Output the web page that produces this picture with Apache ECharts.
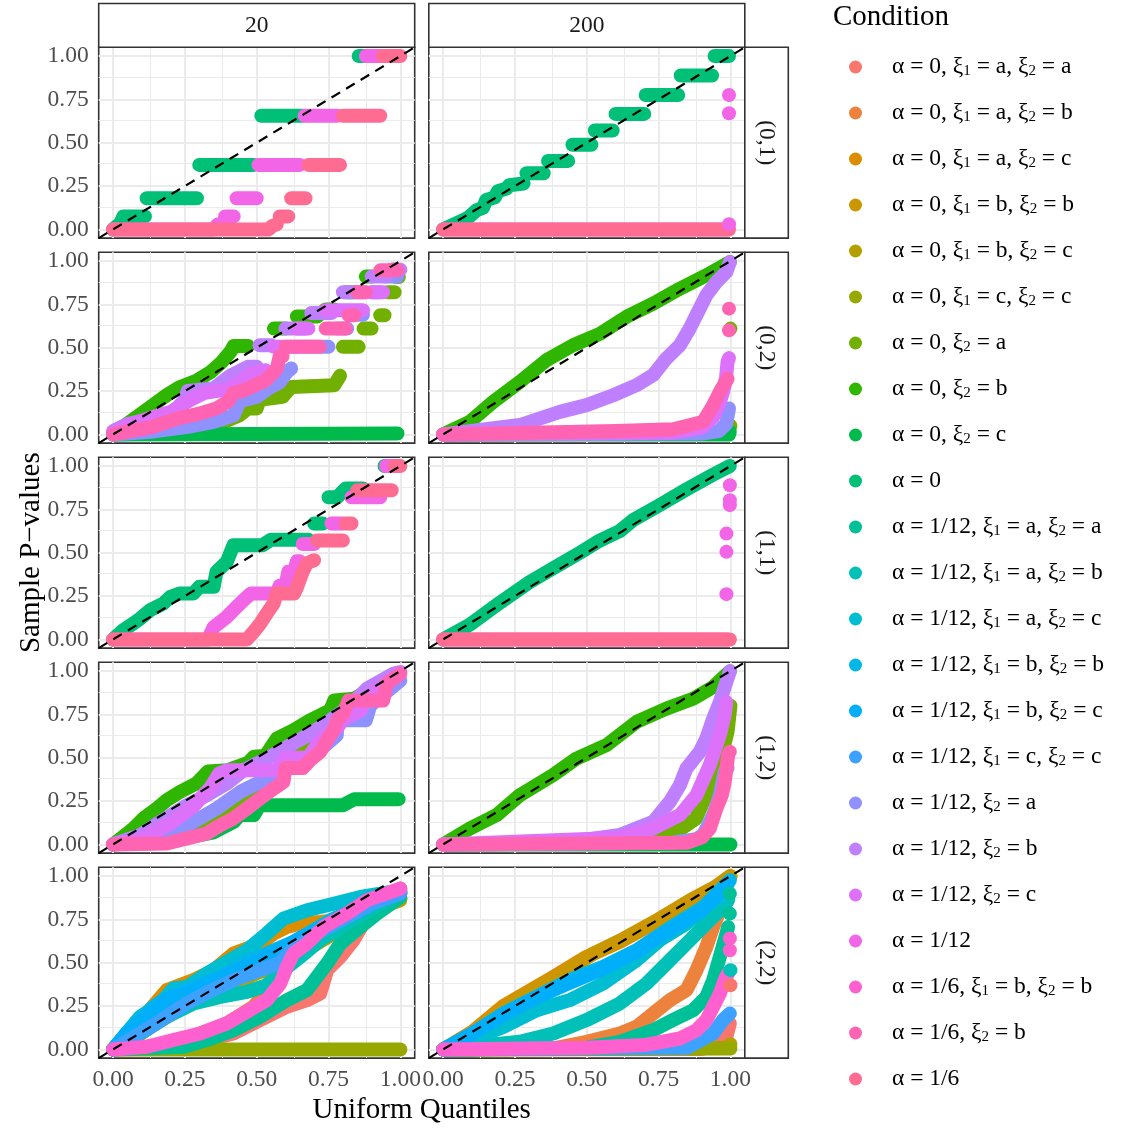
<!DOCTYPE html>
<html><head><meta charset="utf-8">
<script src="https://cdn.jsdelivr.net/npm/echarts@6/dist/echarts.min.js"></script>
<style>html,body{margin:0;padding:0;background:#fff}#chart{width:1123px;height:1128px}</style>
</head><body><div id="chart"></div>
<script>
// ---------------- labels ----------------
const conditions = [
 'α = 0, ξ1 = a, ξ2 = a','α = 0, ξ1 = a, ξ2 = b','α = 0, ξ1 = a, ξ2 = c','α = 0, ξ1 = b, ξ2 = b',
 'α = 0, ξ1 = b, ξ2 = c','α = 0, ξ1 = c, ξ2 = c','α = 0, ξ2 = a','α = 0, ξ2 = b','α = 0, ξ2 = c','α = 0',
 'α = 1/12, ξ1 = a, ξ2 = a','α = 1/12, ξ1 = a, ξ2 = b','α = 1/12, ξ1 = a, ξ2 = c','α = 1/12, ξ1 = b, ξ2 = b',
 'α = 1/12, ξ1 = b, ξ2 = c','α = 1/12, ξ1 = c, ξ2 = c','α = 1/12, ξ2 = a','α = 1/12, ξ2 = b','α = 1/12, ξ2 = c',
 'α = 1/12','α = 1/6, ξ1 = b, ξ2 = b','α = 1/6, ξ2 = b','α = 1/6'];
const colLabels = ['20','200'];
const rowLabels = ['(0,1)','(0,2)','(1,1)','(1,2)','(2,2)'];
const tickValues = [0,0.25,0.5,0.75,1];
const minorValues = [0.125,0.375,0.625,0.875];
const axisLimits = [-0.05,1.05];

// ---------------- data (Uniform quantile, sample p-value) ----------------
// row (0,1), n = 20
const p01_n20_a0 = [[0,0],[0.025,0.035],[0.036,0.075],[0.111,0.075],null,[0.117,0.18],[0.292,0.18],null,[0.30,0.372],[0.49,0.372],null,[0.516,0.655],[0.66,0.655],null,[0.855,1],[0.88,1]];
const p01_n20_a112 = [[0,0],[0.35,0],[0.365,0.03],[0.38,0.03],null,[0.39,0.075],[0.42,0.075],null,[0.43,0.18],[0.5,0.18],null,[0.506,0.372],[0.65,0.372],null,[0.667,0.655],[0.78,0.655],null,[0.88,1],[0.93,1]];
const p01_n20_a16 = [[0,0],[0.54,0],[0.555,0.02],[0.57,0.03],null,[0.58,0.075],[0.61,0.075],null,[0.62,0.18],[0.67,0.18],null,[0.68,0.372],[0.79,0.372],null,[0.8,0.655],[0.93,0.655],null,[0.94,1],[1,1]];
// row (0,1), n = 200
const p01_n200_a0 = [[0,0],[0.04,0.03],[0.085,0.065],[0.116,0.11],[0.139,0.125],[0.15,0.17],[0.18,0.185],[0.19,0.22],[0.22,0.235],[0.23,0.255],[0.28,0.265],null,[0.29,0.324],[0.35,0.324],null,[0.365,0.395],[0.435,0.395],null,[0.45,0.488],[0.516,0.488],null,[0.528,0.57],[0.59,0.57],null,[0.6,0.666],[0.7,0.666],null,[0.705,0.775],[0.818,0.775],null,[0.827,0.887],[0.936,0.887],null,[0.945,1],[0.995,1]];
const p01_n200_a112 = [[0,0],[0.99,0]];
const p01_n200_a112_pts = [[0.995,0.775],[0.995,0.67],[0.995,0.03]];
const p01_n200_a16 = [[0,0],[0.995,0]];
// row (0,2), n = 20
const p02_n20_a0x2a = [[0,0],[0.13,0.006],[0.26,0.025],[0.36,0.054],[0.44,0.11],[0.47,0.15],[0.5,0.15],[0.51,0.2],[0.59,0.217],[0.62,0.274],[0.77,0.284],[0.79,0.338],null,[0.8,0.505],[0.855,0.505],null,[0.872,0.61],[0.9,0.61],null,[0.93,0.687],[0.945,0.687],null,[0.955,0.82],[0.98,0.82],null,[0.985,0.908],[0.995,0.908]];
const p02_n20_a0x2b = [[0,0.01],[0.04,0.05],[0.09,0.11],[0.14,0.17],[0.19,0.23],[0.23,0.27],[0.29,0.31],[0.34,0.36],[0.38,0.42],[0.41,0.48],[0.42,0.51],[0.47,0.51],null,[0.56,0.61],[0.6,0.61],null,[0.64,0.68],[0.71,0.68],[0.74,0.72],[0.77,0.72],null,[0.81,0.82],[0.84,0.82],null,[0.88,0.91],[0.9,0.91],null,[0.97,0.95],[0.99,0.95]];
const p02_n20_a0x2c = [[0,0],[0.99,0.005]];
const p02_n20_a112x2a = [[0,0],[0.13,0.015],[0.26,0.044],[0.35,0.073],[0.42,0.11],[0.44,0.19],[0.5,0.217],[0.54,0.265],[0.58,0.3],[0.605,0.36],[0.62,0.38],null,[0.63,0.505],[0.75,0.505],null,[0.78,0.61],[0.815,0.61],null,[0.84,0.69],[0.87,0.69],null,[0.9,0.82],[0.93,0.82],null,[0.95,0.91],[0.99,0.91]];
const p02_n20_a112x2b = [[0,0.02],[0.05,0.06],[0.13,0.09],[0.21,0.13],[0.25,0.2],[0.26,0.25],[0.35,0.265],[0.41,0.34],[0.47,0.39],[0.5,0.39],null,[0.51,0.514],[0.55,0.514],null,[0.6,0.61],[0.67,0.61],null,[0.69,0.7],[0.76,0.7],null,[0.8,0.82],[0.88,0.82],null,[0.9,0.91],[0.95,0.91],null,[0.97,0.95],[1,0.95]];
const p02_n20_a112x2c = [[0,0.01],[0.05,0.05],[0.12,0.09],[0.2,0.13],[0.27,0.2],[0.32,0.24],[0.4,0.26],[0.44,0.3],[0.48,0.35],[0.53,0.37],null,[0.56,0.505],[0.62,0.505],null,[0.64,0.61],[0.68,0.61],null,[0.74,0.716],[0.87,0.716],null,[0.9,0.82],[0.94,0.82],null,[0.97,0.95],[0.99,0.95]];
const p02_n20_a16x2b = [[0,0],[0.13,0.04],[0.22,0.09],[0.3,0.12],[0.36,0.15],[0.4,0.19],[0.42,0.24],[0.45,0.25],[0.49,0.28],[0.53,0.31],[0.56,0.36],[0.57,0.38],[0.58,0.45],[0.59,0.45],null,[0.6,0.505],[0.72,0.505],null,[0.74,0.61],[0.81,0.61],null,[0.82,0.687],[0.84,0.687],null,[0.85,0.82],[0.88,0.82],null,[0.93,0.946],[0.99,0.946]];
// row (0,2), n = 200
const p02_n200_a0x2a = [[0,0],[0.97,0.005],[0.99,0.03],[1,0.05]];
const p02_n200_a0x2a_pts = [[1,0.61]];
const p02_n200_a0x2b = [[0,0],[0.093,0.073],[0.174,0.188],[0.267,0.303],[0.36,0.428],[0.452,0.514],[0.545,0.58],[0.638,0.678],[0.731,0.754],[0.824,0.84],[0.916,0.917],[0.998,0.994]];
const p02_n200_a0x2c = [[0,0],[0.995,0],[0.998,0.015]];
const p02_n200_a112x2a = [[0,0],[0.9,0.005],[0.96,0.02],[0.985,0.06],[0.995,0.15]];
const p02_n200_a112x2b = [[0,0],[0.267,0.054],[0.406,0.13],[0.499,0.169],[0.592,0.226],[0.673,0.284],[0.731,0.342],[0.777,0.438],[0.824,0.514],[0.858,0.61],[0.893,0.726],[0.916,0.802],[0.951,0.879],[0.986,0.937],[0.998,0.994]];
const p02_n200_a112x2c = [[0,0],[0.8,0.01],[0.9,0.04],[0.94,0.1],[0.96,0.17],[0.975,0.25],[0.985,0.33],[0.99,0.42],[0.995,0.44]];
const p02_n200_a16x2b = [[0,0],[0.3,0.01],[0.6,0.02],[0.8,0.03],[0.85,0.05],[0.905,0.073],[0.94,0.169],[0.963,0.246],[0.98,0.294],[0.99,0.32]];
const p02_n200_a16x2b_pts = [[0.995,0.725],[0.995,0.6]];
// row (1,1), n = 20
const p11_n20_a0 = [[0,0],[0.036,0.054],[0.071,0.092],[0.094,0.12],[0.13,0.17],[0.175,0.207],[0.2,0.246],[0.233,0.265],[0.28,0.265],[0.3,0.303],[0.35,0.303],[0.36,0.39],[0.396,0.447],[0.419,0.543],[0.52,0.543],[0.55,0.575],[0.68,0.575],null,[0.7,0.668],[0.73,0.668],null,[0.75,0.82],[0.78,0.82],[0.81,0.87],[0.87,0.87],null,[0.945,1],[0.99,1]];
const p11_n20_a112 = [[0,0],[0.33,0],[0.35,0.07],[0.396,0.13],[0.419,0.169],[0.454,0.226],[0.48,0.265],[0.57,0.265],[0.58,0.31],[0.6,0.31],[0.61,0.39],[0.63,0.39],[0.64,0.45],[0.65,0.45],null,[0.66,0.55],[0.7,0.55],null,[0.76,0.668],[0.8,0.668],null,[0.83,0.82],[0.93,0.82],null,[0.95,1],[0.99,1]];
const p11_n20_a16 = [[0,0],[0.466,0],[0.489,0.044],[0.512,0.09],[0.535,0.15],[0.559,0.207],[0.57,0.265],[0.63,0.265],[0.64,0.3],[0.66,0.39],[0.675,0.44],[0.7,0.457],null,[0.71,0.57],[0.8,0.57],null,[0.81,0.668],[0.83,0.668],null,[0.85,0.86],[0.97,0.86],null,[0.98,1],[1,1]];
// row (1,1), n = 200
const p11_n200_a0 = [[0,0],[0.093,0.085],[0.2,0.215],[0.3,0.33],[0.383,0.41],[0.476,0.5],[0.545,0.57],[0.615,0.625],[0.661,0.688],[0.754,0.775],[0.847,0.865],[0.94,0.95],[0.998,1]];
const p11_n200_a112 = [[0,0],[0.99,0]];
const p11_n200_a112_pts = [[0.998,0.889],[0.998,0.802],[0.998,0.774],[0.986,0.61],[0.986,0.505],[0.986,0.261]];
const p11_n200_a16 = [[0,0],[0.998,0]];
// row (1,2), n = 20
const p12_n20_a0x2a = [[0,0],[0.2,0.05],[0.3,0.13],[0.4,0.2],[0.5,0.32],[0.6,0.45],[0.7,0.6],[0.8,0.72],[0.9,0.85],[0.99,0.97]];
const p12_n20_a0x2b = [[0,0],[0.024,0.03],[0.071,0.092],[0.106,0.15],[0.152,0.207],[0.187,0.255],[0.233,0.303],[0.29,0.351],[0.33,0.42],[0.4,0.428],[0.47,0.47],[0.49,0.505],[0.53,0.51],[0.57,0.61],[0.628,0.658],[0.686,0.716],[0.756,0.773],[0.77,0.83],[0.84,0.84],[0.9,0.9],[0.99,0.98]];
const p12_n20_a0x2c = [[0,0],[0.2,0.02],[0.35,0.07],[0.42,0.13],[0.44,0.169],[0.49,0.169],[0.51,0.226],[0.8,0.226],[0.84,0.261],[0.994,0.261]];
const p12_n20_a112x2a = [[0,0],[0.187,0.044],[0.28,0.13],[0.361,0.207],[0.443,0.303],[0.512,0.36],[0.57,0.418],[0.686,0.495],[0.779,0.63],[0.78,0.716],[0.88,0.716],[0.895,0.8],[1,0.946]];
const p12_n20_a112x2b = [[0,0],[0.094,0.054],[0.164,0.13],[0.257,0.226],[0.326,0.284],[0.396,0.351],[0.454,0.428],[0.535,0.495],[0.617,0.572],[0.698,0.649],[0.756,0.716],[0.814,0.783],[0.884,0.898],[0.977,0.985],[1,0.994]];
const p12_n20_a112x2c = [[0,0],[0.1,0.03],[0.2,0.12],[0.28,0.22],[0.34,0.33],[0.37,0.41],[0.4,0.428],[0.57,0.428],[0.6,0.5],[0.68,0.5],[0.72,0.6],[0.78,0.67],[0.8,0.72],[0.86,0.77],[0.9,0.87],[0.95,0.93],[0.99,0.97]];
const p12_n20_a16x2b = [[0,0],[0.187,0.006],[0.257,0.035],[0.326,0.063],[0.373,0.111],[0.419,0.15],[0.466,0.207],[0.512,0.265],[0.559,0.322],[0.593,0.36],[0.6,0.44],[0.66,0.44],[0.686,0.486],[0.721,0.534],[0.745,0.6],[0.768,0.658],[0.779,0.716],[0.8,0.75],[0.82,0.83],[0.94,0.83],[0.953,0.927],[1,0.985]];
// row (1,2), n = 200
const p12_n200_a0x2a = [[0,0],[0.5,0.005],[0.68,0.04],[0.82,0.08],[0.88,0.15],[0.92,0.3],[0.955,0.45],[0.975,0.55],[0.99,0.65],[1,0.8]];
const p12_n200_a0x2b = [[0,0],[0.093,0.092],[0.186,0.169],[0.267,0.284],[0.383,0.4],[0.464,0.495],[0.568,0.572],[0.673,0.706],[0.777,0.783],[0.87,0.84],[0.94,0.908],[0.998,0.998]];
const p12_n200_a0x2c = [[0,0],[1,0]];
const p12_n200_a112x2a = [[0,0],[0.8,0.01],[0.88,0.03],[0.905,0.054],[0.94,0.17],[0.963,0.284],[0.98,0.418],[0.99,0.44]];
const p12_n200_a112x2b = [[0,0],[0.441,0.015],[0.615,0.054],[0.731,0.13],[0.789,0.246],[0.824,0.342],[0.847,0.438],[0.893,0.534],[0.916,0.61],[0.94,0.726],[0.963,0.82],[0.986,0.937],[0.998,0.998]];
const p12_n200_a112x2c = [[0,0],[0.615,0.038],[0.731,0.092],[0.824,0.169],[0.882,0.284],[0.928,0.457],[0.963,0.63],[0.98,0.745],[0.986,0.82]];
const p12_n200_a16x2b = [[0,0],[0.85,0.01],[0.9,0.04],[0.928,0.092],[0.951,0.207],[0.97,0.284],[0.98,0.36],[0.992,0.514]];
const p12_n200_a16x2b_pts = [[0.998,0.534]];
// row (2,2), n = 20
const p22_n20_c1 = [[0,0],[0.187,0.006],[0.303,0.044],[0.419,0.092],[0.512,0.169],[0.605,0.246],[0.675,0.284],[0.721,0.322],[0.745,0.457],[0.791,0.534],[0.837,0.63],[0.884,0.764],[0.942,0.82],[1,0.898]];
const p22_n20_c2 = [[0,0],[0.187,0.025],[0.303,0.092],[0.396,0.15],[0.489,0.246],[0.535,0.342],[0.559,0.457],[0.582,0.514],[0.652,0.59],[0.721,0.668],[0.814,0.764],[0.907,0.86],[1,0.927]];
const p22_n20_c3 = [[0,0],[0.048,0.092],[0.117,0.207],[0.187,0.342],[0.28,0.4],[0.35,0.457],[0.419,0.553],[0.512,0.61],[0.559,0.668],[0.605,0.706],[0.652,0.726],[0.721,0.735],[0.826,0.754],[0.919,0.82],[1,0.87]];
const p22_n20_c4 = [[0,0],[0.05,0.06],[0.12,0.16],[0.2,0.26],[0.3,0.36],[0.4,0.43],[0.48,0.48],[0.55,0.52],[0.62,0.58],[0.7,0.66],[0.78,0.73],[0.86,0.79],[0.93,0.84],[1,0.87]];
const p22_n20_c5 = [[0,0],[0.06,0.05],[0.15,0.15],[0.25,0.25],[0.35,0.33],[0.45,0.4],[0.5,0.44],[0.6,0.5],[0.7,0.6],[0.8,0.7],[0.9,0.8],[1,0.86]];
const p22_n20_c6 = [[0,0],[1,0]];
const p22_n20_c11 = [[0,0],[0.245,0.015],[0.326,0.054],[0.419,0.111],[0.512,0.188],[0.605,0.284],[0.675,0.342],[0.745,0.495],[0.791,0.61],[0.861,0.706],[0.919,0.783],[1,0.879]];
const p22_n20_c12 = [[0,0],[0.094,0.092],[0.187,0.188],[0.28,0.265],[0.373,0.303],[0.466,0.332],[0.535,0.37],[0.593,0.457],[0.652,0.534],[0.721,0.63],[0.814,0.726],[0.907,0.82],[1,0.898]];
const p22_n20_c13 = [[0,0],[0.094,0.188],[0.164,0.265],[0.21,0.351],[0.257,0.36],[0.326,0.438],[0.396,0.505],[0.466,0.572],[0.535,0.668],[0.593,0.754],[0.675,0.802],[0.768,0.84],[0.861,0.879],[1,0.917]];
const p22_n20_c14 = [[0,0],[0.071,0.13],[0.14,0.246],[0.21,0.322],[0.303,0.38],[0.396,0.438],[0.443,0.495],[0.535,0.553],[0.628,0.62],[0.698,0.687],[0.756,0.745],[0.837,0.802],[1,0.908]];
const p22_n20_c15 = [[0,0],[0.05,0.1],[0.12,0.2],[0.2,0.3],[0.28,0.34],[0.36,0.4],[0.45,0.47],[0.55,0.55],[0.65,0.64],[0.75,0.72],[0.85,0.81],[0.95,0.88],[1,0.91]];
const p22_n20_c16 = [[0,0],[0.06,0.06],[0.15,0.15],[0.25,0.26],[0.33,0.33],[0.42,0.4],[0.5,0.45],[0.58,0.5],[0.62,0.57],[0.7,0.66],[0.8,0.75],[0.9,0.84],[1,0.9]];
const p22_n20_c21 = [[0,0],[0.117,0.015],[0.21,0.054],[0.303,0.092],[0.396,0.15],[0.466,0.217],[0.535,0.284],[0.582,0.38],[0.605,0.476],[0.628,0.553],[0.675,0.61],[0.733,0.706],[0.814,0.783],[0.884,0.86],[1,0.927]];
// row (2,2), n = 200
const p22_n200_c1 = [[0,0],[0.9,0.003],[0.95,0.02],[0.986,0.073],[0.998,0.15]];
const p22_n200_c1_pts = [[1,0.37]];
const p22_n200_c2 = [[0,0],[0.38,0.005],[0.5,0.044],[0.615,0.092],[0.673,0.13],[0.731,0.207],[0.789,0.284],[0.847,0.342],[0.882,0.457],[0.916,0.591],[0.94,0.706],[0.963,0.802],[0.98,0.879]];
const p22_n200_c3 = [[0,0],[0.1,0.1],[0.209,0.25],[0.383,0.418],[0.499,0.534],[0.615,0.62],[0.731,0.726],[0.847,0.84],[0.94,0.927],[1,0.998]];
const p22_n200_c4 = [[0,0],[0.12,0.11],[0.25,0.28],[0.4,0.42],[0.52,0.55],[0.63,0.64],[0.75,0.75],[0.86,0.86],[0.95,0.94],[1,1]];
const p22_n200_c5 = [[0,0],[0.99,0.01],[1,0.03]];
const p22_n200_c6 = [[0,0],[1,0.005]];
const p22_n200_c11 = [[0,0],[0.5,0.01],[0.615,0.044],[0.731,0.111],[0.8,0.169],[0.87,0.226],[0.916,0.303],[0.94,0.399],[0.963,0.534],[0.986,0.668],[0.992,0.706]];
const p22_n200_c11_pts = [[0.998,0.783],[0.998,0.898]];
const p22_n200_c12 = [[0,0],[0.267,0.044],[0.383,0.092],[0.499,0.169],[0.615,0.265],[0.708,0.38],[0.789,0.514],[0.847,0.61],[0.916,0.726],[0.963,0.802],[0.992,0.86]];
const p22_n200_c12_pts = [[1,0.457]];
const p22_n200_c13 = [[0,0],[0.093,0.054],[0.209,0.13],[0.325,0.226],[0.44,0.284],[0.557,0.38],[0.673,0.514],[0.754,0.63],[0.847,0.726],[0.928,0.84],[0.974,0.879]];
const p22_n200_c14 = [[0,0],[0.093,0.083],[0.209,0.207],[0.325,0.303],[0.44,0.4],[0.557,0.476],[0.673,0.572],[0.789,0.7],[0.905,0.82],[0.998,0.975]];
const p22_n200_c15 = [[0,0],[0.1,0.09],[0.2,0.19],[0.3,0.28],[0.42,0.37],[0.55,0.46],[0.67,0.56],[0.78,0.68],[0.9,0.8],[0.99,0.95]];
const p22_n200_c16 = [[0,0],[0.85,0.01],[0.94,0.092],[0.974,0.169],[0.998,0.207]];
const p22_n200_c21 = [[0,0],[0.5,0.01],[0.7,0.025],[0.824,0.063],[0.882,0.111],[0.916,0.169],[0.94,0.246],[0.963,0.322],[0.98,0.4],[0.992,0.438]];
const p22_n200_c21_pts = [[0.998,0.64],[0.998,0.572]];

// panel -> layers [conditionIndex, lineData, pointData]
const panels = [
 [[9,p01_n20_a0],[19,p01_n20_a112],[22,p01_n20_a16]],
 [[9,p01_n200_a0],[19,p01_n200_a112,p01_n200_a112_pts],[22,p01_n200_a16]],
 [[6,p02_n20_a0x2a],[7,p02_n20_a0x2b],[8,p02_n20_a0x2c],[16,p02_n20_a112x2a],[17,p02_n20_a112x2b],[18,p02_n20_a112x2c],[21,p02_n20_a16x2b]],
 [[6,p02_n200_a0x2a,p02_n200_a0x2a_pts],[7,p02_n200_a0x2b],[8,p02_n200_a0x2c],[16,p02_n200_a112x2a],[17,p02_n200_a112x2b],[18,p02_n200_a112x2c],[21,p02_n200_a16x2b,p02_n200_a16x2b_pts]],
 [[9,p11_n20_a0],[19,p11_n20_a112],[22,p11_n20_a16]],
 [[9,p11_n200_a0],[19,p11_n200_a112,p11_n200_a112_pts],[22,p11_n200_a16]],
 [[6,p12_n20_a0x2a],[7,p12_n20_a0x2b],[8,p12_n20_a0x2c],[16,p12_n20_a112x2a],[17,p12_n20_a112x2b],[18,p12_n20_a112x2c],[21,p12_n20_a16x2b]],
 [[6,p12_n200_a0x2a],[7,p12_n200_a0x2b],[8,p12_n200_a0x2c],[16,p12_n200_a112x2a],[17,p12_n200_a112x2b],[18,p12_n200_a112x2c],[21,p12_n200_a16x2b,p12_n200_a16x2b_pts]],
 [[0,p22_n20_c1],[1,p22_n20_c2],[2,p22_n20_c3],[3,p22_n20_c4],[4,p22_n20_c5],[5,p22_n20_c6],[10,p22_n20_c11],[11,p22_n20_c12],[12,p22_n20_c13],[13,p22_n20_c14],[14,p22_n20_c15],[15,p22_n20_c16],[20,p22_n20_c21]],
 [[0,p22_n200_c1,p22_n200_c1_pts],[1,p22_n200_c2],[2,p22_n200_c3],[3,p22_n200_c4],[4,p22_n200_c5],[5,p22_n200_c6],[10,p22_n200_c11,p22_n200_c11_pts],[11,p22_n200_c12,p22_n200_c12_pts],[12,p22_n200_c13],[13,p22_n200_c14],[14,p22_n200_c15],[15,p22_n200_c16],[20,p22_n200_c21,p22_n200_c21_pts]]
];

// ---------------- styling helpers ----------------
function hcl(h, c, l) {
  const hr = h * Math.PI / 180;
  const U = c * Math.cos(hr), V = c * Math.sin(hr);
  const Y = 100 * Math.pow((l + 16) / 116, 3);
  const un = 0.1978398, vn = 0.4683363;
  const u = U / (13 * l) + un, v = V / (13 * l) + vn;
  const X = 9 * Y * u / (4 * v);
  const Z = -X / 3 - 5 * Y + 3 * Y / v;
  const lin = [(3.240479*X - 1.537150*Y - 0.498535*Z)/100, (-0.969256*X + 1.875992*Y + 0.041556*Z)/100, (0.055648*X - 0.204043*Y + 1.057311*Z)/100];
  const g = t => t > 0.00304 ? 1.055 * Math.pow(t, 1/2.4) - 0.055 : 12.92 * t;
  return '#' + lin.map(t => Math.round(255 * Math.min(1, Math.max(0, g(t)))).toString(16).padStart(2, '0')).join('');
}
const colors = conditions.map((_, i) => hcl(15 + i * 360 / conditions.length, 100, 65));

const FONT = '"Liberation Serif", "Times New Roman", serif';
const GL = [98.7, 428.8], GW = 316, GT0 = 47.3, GSTEP = 205, GH = 190.8;
const PT = 14; // point diameter

const grids = [], xAxes = [], yAxes = [], series = [];
panels.forEach((layers, pi) => {
  const r = Math.floor(pi / 2), c = pi % 2;
  grids.push({left: GL[c], top: GT0 + r * GSTEP, width: GW, height: GH, show: true,
    backgroundColor: '#fff', borderColor: '#333333', borderWidth: 1.6, containLabel: false, outerBoundsMode: 'none'});
  const lab = {fontFamily: FONT, fontSize: 23.5, color: '#4D4D4D', margin: 10, customValues: tickValues, formatter: v => v.toFixed(2)};
  const tk = {length: 7, lineStyle: {color: '#333333', width: 1.5}, customValues: tickValues};
  xAxes.push({gridIndex: pi, type: 'value', min: axisLimits[0], max: axisLimits[1],
    axisLine: {show: false}, splitLine: {show: false},
    axisTick: Object.assign({show: r === 4}, tk), axisLabel: Object.assign({show: r === 4}, lab)});
  yAxes.push({gridIndex: pi, type: 'value', min: axisLimits[0], max: axisLimits[1],
    axisLine: {show: false}, splitLine: {show: false},
    axisTick: Object.assign({show: c === 0}, tk), axisLabel: Object.assign({show: c === 0}, lab)});
  // grid lines
  const gl = [];
  tickValues.forEach(v => { gl.push({xAxis: v, lineStyle: {color: '#EBEBEB', width: 2, type: 'solid'}}); gl.push({yAxis: v, lineStyle: {color: '#EBEBEB', width: 2, type: 'solid'}}); });
  minorValues.forEach(v => { gl.push({xAxis: v, lineStyle: {color: '#EBEBEB', width: 1, type: 'solid'}}); gl.push({yAxis: v, lineStyle: {color: '#EBEBEB', width: 1, type: 'solid'}}); });
  series.push({type: 'line', xAxisIndex: pi, yAxisIndex: pi, data: [], silent: true, z: 1,
    markLine: {z: 1, silent: true, symbol: ['none', 'none'], label: {show: false}, animation: false, emphasis: {disabled: true}, data: gl}});
  layers.forEach(([ci, line, pts]) => {
    const col = colors[ci];
    if (line) series.push({type: 'line', name: conditions[ci], xAxisIndex: pi, yAxisIndex: pi, z: 2,
      data: line.map(p => p ? p : ['-', '-']), showSymbol: false, symbol: 'circle', connectNulls: false,
      color: col, itemStyle: {color: col}, lineStyle: {color: col, width: PT, cap: 'round', join: 'round'},
      silent: true, emphasis: {disabled: true}});
    if (pts) series.push({type: 'scatter', name: conditions[ci], xAxisIndex: pi, yAxisIndex: pi, z: 2,
      data: pts, symbol: 'circle', symbolSize: PT, color: col, itemStyle: {color: col, opacity: 1}, silent: true, emphasis: {disabled: true}});
  });
  // reference line y = x
  series.push({type: 'line', xAxisIndex: pi, yAxisIndex: pi, data: [], silent: true, z: 10,
    markLine: {z: 10, silent: true, symbol: ['none', 'none'], label: {show: false}, animation: false, emphasis: {disabled: true},
      data: [[{coord: [axisLimits[0], axisLimits[0]]}, {coord: [axisLimits[1], axisLimits[1]]}]],
      lineStyle: {color: '#000', width: 2.2, type: [10, 7]}}});
});

// strips + titles
const graphics = [];
colLabels.forEach((t, c) => {
  graphics.push({type: 'rect', shape: {x: GL[c], y: 3.5, width: GW, height: GT0 - 3.5}, style: {fill: '#fff', stroke: '#333333', lineWidth: 1.6}, z: 50});
  graphics.push({type: 'text', x: GL[c] + GW / 2, y: (3.5 + GT0) / 2, z: 51,
    style: {text: t, font: '23.5px ' + FONT, fill: '#1A1A1A', align: 'center', verticalAlign: 'middle', textAlign: 'center', textVerticalAlign: 'middle'}});
});
rowLabels.forEach((t, r) => {
  const top = GT0 + r * GSTEP;
  graphics.push({type: 'rect', shape: {x: GL[1] + GW, y: top, width: 43.5, height: GH}, style: {fill: '#fff', stroke: '#333333', lineWidth: 1.6}, z: 50});
  graphics.push({type: 'text', x: GL[1] + GW + 21.75, y: top + GH / 2, rotation: -Math.PI / 2, z: 51,
    style: {text: t, x: 0, y: 0, font: '23.5px ' + FONT, fill: '#1A1A1A', align: 'center', verticalAlign: 'middle', textAlign: 'center', textVerticalAlign: 'middle'}});
});
graphics.push({type: 'text', x: (GL[0] + GL[1] + GW) / 2, y: 1110, z: 51,
  style: {text: 'Uniform Quantiles', font: '29px ' + FONT, fill: '#000', align: 'center', verticalAlign: 'middle', textAlign: 'center', textVerticalAlign: 'middle'}});
graphics.push({type: 'text', x: 31, y: GT0 + (4 * GSTEP + GH) / 2, rotation: Math.PI / 2, z: 51,
  style: {text: 'Sample P\u2212values', x: 0, y: 0, font: '29px ' + FONT, fill: '#000', align: 'center', verticalAlign: 'middle', textAlign: 'center', textVerticalAlign: 'middle'}});
graphics.push({type: 'text', x: 833, y: 17, z: 51,
  style: {text: 'Condition', font: '29px ' + FONT, fill: '#000', align: 'left', verticalAlign: 'middle', textAlign: 'left', textVerticalAlign: 'middle'}});

const chart = echarts.init(document.getElementById('chart'), null, {renderer: 'canvas'});
chart.setOption({
  animation: false,
  backgroundColor: '#fff',
  grid: grids, xAxis: xAxes, yAxis: yAxes, series: series, graphic: graphics,
  legend: {orient: 'vertical', left: 844, top: 50, itemGap: 22, itemWidth: 13, itemHeight: 13, icon: 'circle',
    selectedMode: false, data: conditions.map((n, i) => ({name: n, icon: 'circle', itemStyle: {color: colors[i]}})),
    formatter: n => '{sp| }' + n.replace(/ξ([12])/g, 'ξ{s|$1}'),
    textStyle: {fontFamily: FONT, fontSize: 23.5, color: '#000', lineHeight: 24,
      rich: {sp: {width: 25}, s: {fontFamily: FONT, fontSize: 15, verticalAlign: 'bottom', lineHeight: 24, color: '#000'}}}}
});
</script></body></html>
